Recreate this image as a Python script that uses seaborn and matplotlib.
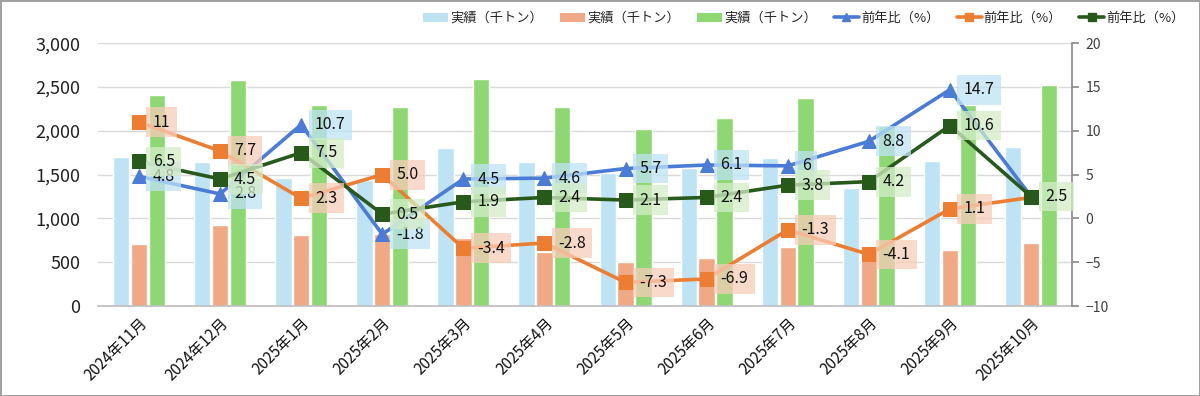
import numpy as np
import pandas as pd
import matplotlib.pyplot as plt
from matplotlib.patches import Patch
from matplotlib.lines import Line2D
from matplotlib.ticker import FuncFormatter, MultipleLocator
import seaborn as sns

# ======================
# data
# ======================
months = ["2024年11月", "2024年12月", "2025年1月", "2025年2月", "2025年3月", "2025年4月",
          "2025年5月", "2025年6月", "2025年7月", "2025年8月", "2025年9月", "2025年10月"]

bar_blue = [1700, 1645, 1465, 1440, 1800, 1645, 1520, 1575, 1690, 1345, 1655, 1815]
bar_orange = [705, 925, 815, 825, 780, 620, 500, 550, 675, 580, 645, 715]
bar_green = [2410, 2585, 2295, 2270, 2595, 2275, 2020, 2145, 2375, 2050, 2300, 2525]

yoy_blue = [4.8, 2.8, 10.7, -1.8, 4.5, 4.6, 5.7, 6.1, 6, 8.8, 14.7, 2.5]
yoy_orange = [11, 7.7, 2.3, 5.0, -3.4, -2.8, -7.3, -6.9, -1.3, -4.1, 1.1, 2.4]
yoy_green = [6.5, 4.5, 7.5, 0.5, 1.9, 2.4, 2.1, 2.4, 3.8, 4.2, 10.6, 2.5]

# label texts as shown on the chart (last blue/orange labels are hidden under the green one)
lbl_blue = ["4.8", "2.8", "10.7", "-1.8", "4.5", "4.6", "5.7", "6.1", "6", "8.8", "14.7", ""]
lbl_orange = ["11", "7.7", "2.3", "5.0", "-3.4", "-2.8", "-7.3", "-6.9", "-1.3", "-4.1", "1.1", ""]
lbl_green = ["6.5", "4.5", "7.5", "0.5", "1.9", "2.4", "2.1", "2.4", "3.8", "4.2", "10.6", "2.5"]

bar_label = "実績（千トン）"
line_label = "前年比（%）"

C_BLUE_BAR = "#BEE3F4"
C_ORANGE_BAR = "#F1A985"
C_GREEN_BAR = "#8ED873"
C_BLUE = "#4A7BD6"
C_ORANGE = "#ED7D31"
C_GREEN = "#275A1A"

# ======================
# style
# ======================
sns.set_theme(style="white")
plt.rcParams["font.family"] = ["Noto Sans CJK JP", "DejaVu Sans"]

df = pd.DataFrame({
    "month": months * 3,
    "value": bar_blue + bar_orange + bar_green,
    "series": ["a"] * 12 + ["b"] * 12 + ["c"] * 12,
})

fig = plt.figure(figsize=(12, 3.96), dpi=100)
fig.patch.set_edgecolor("#A0A0A0")
fig.patch.set_linewidth(2)
ax = fig.add_axes([0.082, 0.227, 0.811, 0.664])

sns.barplot(data=df, x="month", y="value", hue="series",
            palette=[C_BLUE_BAR, C_ORANGE_BAR, C_GREEN_BAR],
            width=0.66, gap=0.08, legend=False, ax=ax, saturation=1)

ax.set_xlim(-0.5, len(months) - 0.5)
ax.set_ylim(0, 3000)
ax.yaxis.set_major_locator(MultipleLocator(500))
ax.yaxis.set_major_formatter(FuncFormatter(lambda v, p: f"{int(v):,}"))
ax.yaxis.grid(True, color="#D9D9D9", linewidth=1)
ax.set_axisbelow(True)
ax.set_xlabel("")
ax.set_ylabel("")
for s in ["top", "left", "right"]:
    ax.spines[s].set_visible(False)
ax.spines["bottom"].set_color("#BFBFBF")
ax.tick_params(axis="y", labelsize=13, colors="#222222", length=0, pad=13)
ax.set_xticks(range(len(months)))
ax.set_xticklabels(months, rotation=45, ha="right", rotation_mode="anchor",
                   fontsize=11, color="#111111")
ax.tick_params(axis="x", which="major", length=0, pad=6)
ax.set_xticks(np.arange(-0.5, len(months) + 0.5, 1), minor=True)
ax.tick_params(axis="x", which="minor", length=5, color="#BFBFBF", width=1)

# ======================
# year-on-year lines (right axis)
# ======================
ax2 = ax.twinx()
xs = np.arange(len(months))
line_specs = [
    (yoy_blue, lbl_blue, C_BLUE, "^", "#BEE3F4"),
    (yoy_orange, lbl_orange, C_ORANGE, "s", "#F7CDB8"),
    (yoy_green, lbl_green, C_GREEN, "s", "#D3EDC8"),
]
for vals, lbls, col, mk, box in line_specs:
    sns.lineplot(x=xs, y=vals, ax=ax2, color=col, marker=mk, markersize=10,
                 markeredgecolor=col, linewidth=2.6, sort=False, legend=False)
    for xi, yi, t in zip(xs, vals, lbls):
        if not t:
            continue
        ax2.annotate(t, (xi, yi), xytext=(10, 0), textcoords="offset points",
                     ha="left", va="center", fontsize=11.5, color="#111111",
                     bbox=dict(boxstyle="square,pad=0.4", fc=box, ec="none", alpha=0.75))

ax2.set_ylim(-10, 20)
ax2.yaxis.set_major_locator(MultipleLocator(5))
ax2.set_ylabel("")
ax2.grid(False)
for s in ["top", "left", "bottom"]:
    ax2.spines[s].set_visible(False)
ax2.spines["right"].set_color("#8C8C8C")
ax2.tick_params(axis="y", labelsize=10, colors="#404040", length=5, color="#8C8C8C",
                direction="out", pad=5)

# ======================
# legend
# ======================
handles = [
    Patch(facecolor=C_BLUE_BAR, edgecolor="none"),
    Patch(facecolor=C_ORANGE_BAR, edgecolor="none"),
    Patch(facecolor=C_GREEN_BAR, edgecolor="none"),
    Line2D([], [], color=C_BLUE, marker="^", markersize=6, linewidth=2.6),
    Line2D([], [], color=C_ORANGE, marker="s", markersize=6, linewidth=2.6),
    Line2D([], [], color=C_GREEN, marker="s", markersize=6, linewidth=2.6),
]
labels = [bar_label] * 3 + [line_label] * 3
fig.legend(handles, labels, loc="upper right", bbox_to_anchor=(0.997, 1.0), ncol=6,
           frameon=False, fontsize=9.5, handlelength=1.9, handleheight=0.7,
           handletextpad=0.15, columnspacing=1.3)

fig.savefig("out.png", dpi=100, edgecolor=fig.get_edgecolor())
